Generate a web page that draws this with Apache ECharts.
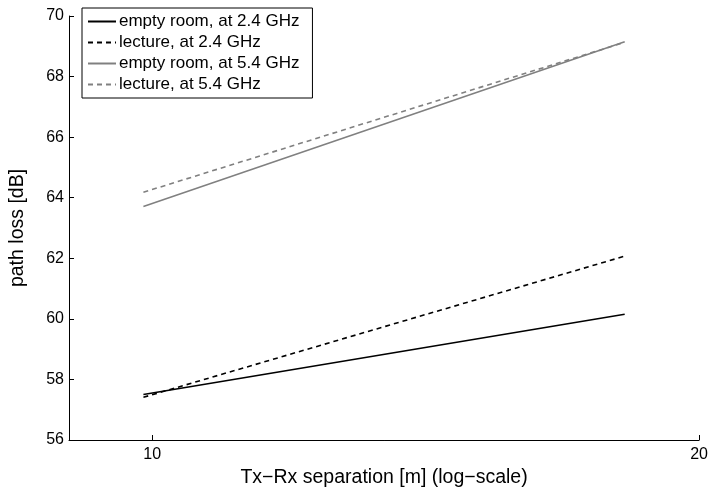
<!DOCTYPE html>
<html>
<head>
<meta charset="utf-8">
<script src="https://cdn.jsdelivr.net/npm/echarts@6/dist/echarts.min.js"></script>
<style>
  html, body { margin: 0; padding: 0; background: #fff; }
  #chart { width: 711px; height: 493px; }
</style>
</head>
<body>
<div id="chart"></div>
<script>
// separation [m] at the two ends of each fitted line
var distances = [9.89, 18.2]
// path loss [dB]
var emptyRoom24 = [57.5, 60.15]
var lecture24 = [57.41, 62.07]
var emptyRoom54 = [63.71, 69.15]
var lecture54 = [64.18, 69.13]
var xTicks = [10, 20]

var seriesNames = [
  'empty room, at 2.4 GHz',
  'lecture, at 2.4 GHz',
  'empty room, at 5.4 GHz',
  'lecture, at 5.4 GHz'
]

function pairs(ys) {
  return distances.map(function(d, i) { return [d, ys[i]] })
}

function makeLine(name, ys, color, type) {
  return {
    name: name,
    type: 'line',
    data: pairs(ys),
    symbol: 'none',
    showSymbol: false,
    animation: false,
    lineStyle: { color: color, width: 1.6, type: type },
    itemStyle: { color: color }
  }
}

var chart = echarts.init(document.getElementById('chart'), null, { renderer: 'canvas' })
var font = 'Liberation Sans, Arial, Helvetica, sans-serif'

var option = {
  animation: false,
  backgroundColor: '#fff',
  textStyle: { fontFamily: font },
  grid: { left: 63, right: 11, top: 16, bottom: 47, containLabel: false },
  legend: {
    orient: 'vertical',
    left: 82,
    top: 8,
    data: seriesNames,
    backgroundColor: '#fff',
    borderColor: '#000',
    borderWidth: 1,
    padding: [5, 13, 5, 5],
    itemGap: 4,
    itemWidth: 28,
    itemHeight: 14,
    itemStyle: { opacity: 0 },
    textStyle: { fontFamily: font, fontSize: 17, lineHeight: 17, color: '#000', padding: [0, 0, 0, -2] }
  },
  xAxis: {
    type: 'log',
    logBase: 10,
    min: 9,
    max: 20,
    name: 'Tx\u2212Rx separation [m] (log\u2212scale)',
    nameLocation: 'middle',
    nameGap: 28,
    nameTextStyle: { fontFamily: font, fontSize: 19.5, color: '#000' },
    axisLine: { lineStyle: { color: '#000', width: 1 } },
    axisTick: { inside: true, length: 5, customValues: xTicks, lineStyle: { color: '#000' } },
    axisLabel: { customValues: xTicks, color: '#000', fontSize: 16, margin: 7, fontFamily: font },
    splitLine: { show: false },
    minorTick: { show: false }
  },
  yAxis: {
    type: 'value',
    min: 56,
    max: 70,
    interval: 2,
    name: 'path loss [dB]',
    nameLocation: 'middle',
    nameGap: 41,
    nameTextStyle: { fontFamily: font, fontSize: 19.5, color: '#000' },
    axisLine: { show: true, lineStyle: { color: '#000', width: 1 } },
    axisTick: { show: true, inside: true, length: 5, lineStyle: { color: '#000' } },
    axisLabel: { color: '#000', fontSize: 16, margin: 5, fontFamily: font },
    splitLine: { show: false }
  },
  series: [
    makeLine(seriesNames[0], emptyRoom24, '#000', 'solid'),
    makeLine(seriesNames[1], lecture24, '#000', [5, 4]),
    makeLine(seriesNames[2], emptyRoom54, '#808080', 'solid'),
    makeLine(seriesNames[3], lecture54, '#808080', [5, 4])
  ]
}

chart.setOption(option)
</script>
</body>
</html>
